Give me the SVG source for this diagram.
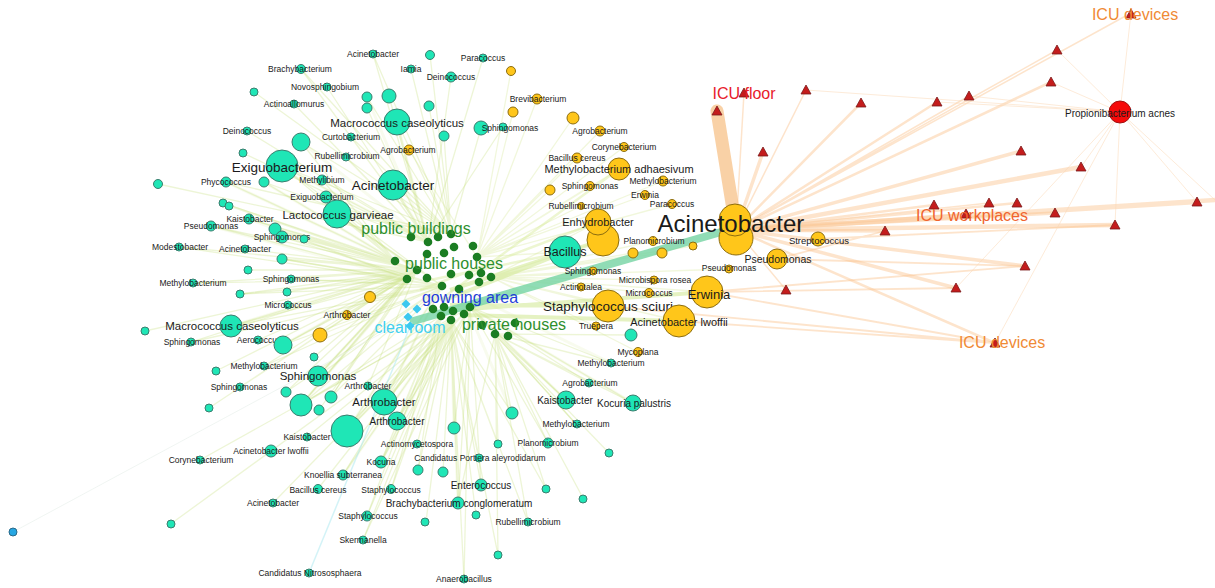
<svg xmlns="http://www.w3.org/2000/svg" width="1215" height="588" viewBox="0 0 1215 588">
<defs>
<path id="tri" d="M0-5L5 4H-5Z"/>
<path id="dia" d="M0-4.5L4.5 0L0 4.5L-4.5 0Z"/>
</defs>
<style>
.t{fill:#1fe6b6;stroke:#3b7d6e;stroke-width:1}
.y{fill:#ffc61a;stroke:#8c6d10;stroke-width:1}
.h{fill:#1b7d22}
.dm{fill:#3cc8ef}
.tr{fill:#c41c1c;stroke:#7a1a1a;stroke-width:.8}
text{font-family:"Liberation Sans",Arial,sans-serif;text-anchor:middle;dominant-baseline:central;fill:#1a1a1a}
.s{font-size:8.5px}
.m{font-size:10px}
.l{font-size:11.5px}
.xl{font-size:13.5px}
.gl{font-size:16px}
.eg{stroke:#c2df78;stroke-opacity:.3;stroke-width:1.3;fill:none}
.eh{stroke:#cde58a;stroke-opacity:.14;stroke-width:3;fill:none}
.ey{stroke:#d2e48a;stroke-opacity:.3;stroke-width:1.3;fill:none}
.eo{stroke:#fbc48e;stroke-opacity:.45;fill:none;stroke-linecap:round}
.ep{stroke:#fbd8b4;stroke-opacity:.5;stroke-width:1;fill:none}
</style>
<rect width="1215" height="588" fill="#ffffff"/>
<g id="edges">
<path class="eh" d="M428 242L397 122M428 242L282 166M428 242L393 185M428 242L301 142M428 242L367 97M417 270L337 214M417 270L275 229M417 270L231 326M417 270L283 345M417 270L318 376M417 270L301 405M442 286L347 431M442 286L384 402M451 320L397 421M451 320L381 462M451 320L343 475M451 320L454 428M451 320L458 503M470 307L566 400M470 307L633 403M407 279L249 219M407 279L211 226M395 261L226 182M395 261L264 182M459 289L512 413M459 289L611 363"/>
<path class="eg" d="M428 242L373 54M428 242L483 58M428 242L451 77M428 242L327 87M428 242L294 104M428 242L389 96M428 242L367 108M428 242L247 131M428 242L243 153M428 242L346 157M428 242L503 127M428 242L282 166M428 242L264 182M428 242L322 180M428 242L326 197M428 242L301 69M428 242L397 122M428 242L393 185M428 242L158 184"/>
<path class="eg" d="M451 234L430 55M451 234L411 69M451 234L301 69M451 234L254 92M451 234L367 97M451 234L429 106M451 234L397 122M451 234L301 142M451 234L351 137M451 234L481 128M451 234L444 136M451 234L226 182M451 234L393 185M451 234L282 166M451 234L337 214M451 234L373 54"/>
<path class="eg" d="M395 261L282 166M395 261L226 182M395 261L264 182M395 261L301 142M395 261L249 219M395 261L223 203M395 261L337 214M395 261L322 180M395 261L326 197"/>
<path class="eg" d="M417 270L337 214M417 270L223 203M417 270L229 206M417 270L249 219M417 270L211 226M417 270L275 229M417 270L282 237M417 270L304 239M417 270L179 247M417 270L245 249M417 270L282 259M417 270L248 270M417 270L291 279M417 270L193 283M417 270L287 292M417 270L240 294M417 270L288 305M417 270L231 326M417 270L145 331M417 270L191 342M417 270L258 340M417 270L283 345M417 270L314 357M417 270L264 366M417 270L216 371M417 270L318 376M417 270L240 387M417 270L286 392M417 270L368 386M417 270L331 397M417 270L301 405M417 270L319 410M417 270L209 408"/>
<path class="eg" d="M407 279L275 229M407 279L282 259M407 279L231 326M407 279L283 345M407 279L318 376M407 279L301 405M407 279L331 397M407 279L240 294M407 279L193 283"/>
<path class="eg" d="M442 286L211 226M442 286L282 237M442 286L179 247M442 286L282 259M442 286L291 279M442 286L240 294M442 286L231 326M442 286L191 342M442 286L283 345M442 286L264 366M442 286L318 376M442 286L286 392M442 286L331 397M442 286L301 405M442 286L384 402M442 286L347 431M442 286L337 214M442 286L282 166"/>
<path class="eg" d="M451 320L384 402M451 320L347 431M451 320L397 421M451 320L512 413M451 320L307 437M451 320L454 428M451 320L417 444M451 320L498 444M451 320L271 451M451 320L479 458M451 320L200 460M451 320L381 462M451 320L343 475M451 320L418 470M451 320L443 472M451 320L317 490M451 320L391 490M451 320L481 485M451 320L273 503M451 320L172 523M451 320L458 503M451 320L367 516M451 320L426 522M451 320L476 515M451 320L528 522M451 320L546 489M451 320L363 540M451 320L498 555M451 320L464 579"/>
<path class="eg" d="M441 316L384 402M441 316L347 431M441 316L397 421M441 316L381 462M441 316L343 475M441 316L301 405M441 316L418 470M441 316L391 490M441 316L367 516"/>
<path class="eg" d="M470 307L397 421M470 307L454 428M470 307L381 462M470 307L481 485M470 307L458 503M470 307L363 540M470 307L464 579M470 307L566 400M470 307L633 403M470 307L611 363M470 307L548 443M470 307L576 424M470 307L589 383M470 307L384 402M470 307L347 431M470 307L301 405"/>
<path class="eg" d="M495 334L611 363M495 334L589 383M495 334L566 400M495 334L633 403M495 334L576 424M495 334L548 443M495 334L609 453M495 334L583 498M495 334L546 489M495 334L512 413M495 334L498 444M495 334L631 335M495 334L528 522M495 334L498 555M495 334L458 503"/>
<path class="ey" d="M477 257L511 71M477 257L537 99M477 257L513 112M477 257L573 118M477 257L600 131M477 257L624 147M477 257L577 158M477 257L619 169M477 257L663 181M477 257L590 186M477 257L550 190M477 257L645 195M477 257L672 204M477 257L581 206M477 257L409 150M477 257L565 252"/>
<path class="ey" d="M491 277L598 222M491 277L603 240M491 277L653 241M491 277L633 253M491 277L662 253M491 277L693 246M491 277L593 271M491 277L655 280M491 277L580 287M491 277L649 293M491 277L608 306M491 277L595 326M491 277L679 321M491 277L707 292M491 277L638 352M491 277L729 269"/>
<path class="ey" d="M417 270L370 297M417 270L347 315M417 270L320 335M442 286L370 297M442 286L320 335"/>
<path d="M445 300L565 252M450 305L608 306M455 310L707 292M460 315L679 321M450 290L603 240" stroke="#cfe78f" stroke-opacity=".55" stroke-width="4" fill="none"/>
<path d="M420 290L598 222M430 280L565 252M440 300L619 169" stroke="#d6ea9a" stroke-opacity=".45" stroke-width="2.5" fill="none"/>
<path d="M410 322L728 230" stroke="#74d3a2" stroke-opacity=".8" stroke-width="8" fill="none"/>
<path d="M412 322L309 573" stroke="#a8e8f0" stroke-opacity=".5" stroke-width="1.5" fill="none"/>
<path d="M410 318L13 532" stroke="#e6eeea" stroke-opacity=".6" stroke-width="1" fill="none"/>
<path class="eo" d="M717 111L736 228" stroke-width="13" style="stroke:#f8c690;stroke-opacity:.8"/>
<path class="eo" stroke-width="1.5" d="M736 230L744 93M736 230L806 90M736 230L969 96M736 230L989 203M736 230L786 290M736 230L1131 13M736 230L1057 50"/>
<path class="eo" stroke-width="2.5" d="M736 230L861 103M736 230L937 102M736 230L1051 82M736 230L934 205M736 230L966 214M736 230L1017 203M736 230L995 343"/>
<path class="eo" stroke-width="3.5" d="M736 230L763 152M736 230L1021 151M736 230L1055 213M736 230L885 231M736 230L1025 266M736 230L956 288"/>
<path class="eo" stroke-width="4.5" d="M736 230L1081 167M736 230L1197 202M736 230L1115 225M736 230L1215 200"/>
<path class="eo" stroke-width="1.8" d="M679 321L995 343M707 292L956 288M707 292L1025 266M707 292L995 343M777 259L1025 266M777 259L885 231M817 239L1115 225M608 306L995 343"/>
<path class="ep" d="M1120 112L1131 13M1120 112L1057 50M1120 112L1051 82M1120 112L806 90M1120 112L937 102M1120 112L969 96M1120 112L1197 202M1120 112L1081 167M1120 112L995 343M1120 112L1115 225M1120 112L1215 200M1120 112L956 288"/>
</g>
<g id="hub">
<circle class="h" cx="411" cy="237" r="4.3"/><circle class="h" cx="428" cy="242" r="4.3"/><circle class="h" cx="438" cy="237" r="4.3"/><circle class="h" cx="451" cy="234" r="4.3"/><circle class="h" cx="454" cy="247" r="4.3"/><circle class="h" cx="473" cy="246" r="4.3"/><circle class="h" cx="427" cy="254" r="4.3"/><circle class="h" cx="444" cy="253" r="4.3"/><circle class="h" cx="477" cy="257" r="4.3"/><circle class="h" cx="395" cy="261" r="4.3"/><circle class="h" cx="417" cy="270" r="4.3"/><circle class="h" cx="407" cy="279" r="4.3"/><circle class="h" cx="427" cy="278" r="4.3"/><circle class="h" cx="451" cy="274" r="4.3"/><circle class="h" cx="469" cy="275" r="4.3"/><circle class="h" cx="481" cy="273" r="4.3"/><circle class="h" cx="491" cy="277" r="4.3"/><circle class="h" cx="479" cy="282" r="4.3"/><circle class="h" cx="442" cy="286" r="4.3"/><circle class="h" cx="459" cy="289" r="4.3"/><circle class="h" cx="433" cy="309" r="4.3"/><circle class="h" cx="444" cy="307" r="4.3"/><circle class="h" cx="453" cy="311" r="4.3"/><circle class="h" cx="470" cy="307" r="4.3"/><circle class="h" cx="441" cy="316" r="4.3"/><circle class="h" cx="464" cy="314" r="4.3"/><circle class="h" cx="451" cy="320" r="4.3"/><circle class="h" cx="495" cy="334" r="4.3"/><circle class="h" cx="508" cy="336" r="4.3"/><circle class="h" cx="515" cy="323" r="4.3"/><circle class="h" cx="482" cy="325" r="4.3"/>
</g>
<g id="cleanroom-nodes">
<use href="#dia" class="dm" x="406" y="304"/><use href="#dia" class="dm" x="417" y="309"/><use href="#dia" class="dm" x="408" y="317"/><use href="#dia" class="dm" x="410" y="326"/>
</g>
<g id="n1"><circle class="t" cx="373" cy="54" r="4"/><text class="s" x="373" y="54">Acinetobacter</text></g>
<g id="n2"><circle class="t" cx="430" cy="55" r="4.5"/></g>
<g id="n3"><circle class="t" cx="483" cy="58" r="4"/><text class="s" x="483" y="58">Paracoccus</text></g>
<g id="n4"><circle class="t" cx="411" cy="69" r="4"/><text class="s" x="411" y="69">Iamia</text></g>
<g id="n5"><circle class="t" cx="451" cy="77" r="5"/><text class="s" x="451" y="77">Deinococcus</text></g>
<g id="n6"><circle class="t" cx="301" cy="69" r="4.5"/><text class="s" x="300" y="69">Brachybacterium</text></g>
<g id="n7"><circle class="t" cx="327" cy="87" r="4"/><text class="s" x="325" y="87">Novosphingobium</text></g>
<g id="n8"><circle class="t" cx="254" cy="92" r="4"/></g>
<g id="n9"><circle class="t" cx="294" cy="104" r="4"/><text class="s" x="294" y="104">Actinoallomurus</text></g>
<g id="n10"><circle class="t" cx="367" cy="97" r="5"/></g>
<g id="n11"><circle class="t" cx="389" cy="96" r="7"/></g>
<g id="n12"><circle class="t" cx="429" cy="106" r="5"/></g>
<g id="n13"><circle class="t" cx="367" cy="108" r="5"/></g>
<g id="n14"><circle class="t" cx="397" cy="122" r="13"/><text class="l" x="397" y="123">Macrococcus caseolyticus</text></g>
<g id="n15"><circle class="t" cx="247" cy="131" r="4"/><text class="s" x="247" y="131">Deinococcus</text></g>
<g id="n16"><circle class="t" cx="301" cy="142" r="9"/></g>
<g id="n17"><circle class="t" cx="243" cy="153" r="4"/></g>
<g id="n18"><circle class="t" cx="351" cy="137" r="4"/><text class="s" x="351" y="137">Curtobacterium</text></g>
<g id="n19"><circle class="t" cx="346" cy="157" r="4"/><text class="s" x="347" y="156">Rubellimicrobium</text></g>
<g id="n20"><circle class="t" cx="481" cy="128" r="7"/></g>
<g id="n21"><circle class="t" cx="503" cy="127" r="4"/><text class="s" x="510" y="128">Sphingomonas</text></g>
<g id="n22"><circle class="t" cx="444" cy="136" r="5"/></g>
<g id="n23"><circle class="t" cx="282" cy="166" r="16"/><text class="xl" x="282" y="167">Exiguobacterium</text></g>
<g id="n24"><circle class="t" cx="226" cy="182" r="5"/><text class="s" x="226" y="182">Phycococcus</text></g>
<g id="n25"><circle class="t" cx="264" cy="182" r="5"/></g>
<g id="n26"><circle class="t" cx="158" cy="184" r="4.5"/></g>
<g id="n27"><circle class="t" cx="322" cy="180" r="5"/><text class="s" x="322" y="180">Methylibium</text></g>
<g id="n28"><circle class="t" cx="393" cy="185" r="15"/><text class="xl" x="393" y="185">Acinetobacter</text></g>
<g id="n29"><circle class="t" cx="326" cy="197" r="6"/><text class="s" x="322" y="197">Exiguobacterium</text></g>
<g id="n30"><circle class="t" cx="337" cy="214" r="14"/><text class="l" x="338" y="215">Lactococcus garvieae</text></g>
<g id="n31"><circle class="t" cx="223" cy="203" r="4"/></g>
<g id="n32"><circle class="t" cx="229" cy="206" r="4"/></g>
<g id="n33"><circle class="t" cx="249" cy="219" r="5"/><text class="s" x="250" y="219">Kaistobacter</text></g>
<g id="n34"><circle class="t" cx="211" cy="226" r="5"/><text class="s" x="211" y="226">Pseudomonas</text></g>
<g id="n35"><circle class="t" cx="275" cy="229" r="6"/></g>
<g id="n36"><circle class="t" cx="282" cy="237" r="6"/><text class="s" x="282" y="237">Sphingomonas</text></g>
<g id="n37"><circle class="t" cx="304" cy="239" r="4"/></g>
<g id="n38"><circle class="t" cx="179" cy="247" r="4"/><text class="s" x="180" y="247">Modestobacter</text></g>
<g id="n39"><circle class="t" cx="245" cy="249" r="4"/><text class="s" x="245" y="249">Acinetobacter</text></g>
<g id="n40"><circle class="t" cx="282" cy="259" r="5"/></g>
<g id="n41"><circle class="t" cx="248" cy="270" r="4"/></g>
<g id="n42"><circle class="t" cx="291" cy="279" r="4"/><text class="s" x="291" y="279">Sphingomonas</text></g>
<g id="n43"><circle class="t" cx="193" cy="283" r="4"/><text class="s" x="193" y="283">Methylobacterium</text></g>
<g id="n44"><circle class="t" cx="287" cy="292" r="4"/></g>
<g id="n45"><circle class="t" cx="240" cy="294" r="4"/></g>
<g id="n46"><circle class="t" cx="288" cy="305" r="4"/><text class="s" x="288" y="305">Micrococcus</text></g>
<g id="n47"><circle class="t" cx="231" cy="326" r="11"/><text class="l" x="232" y="326">Macrococcus caseolyticus</text></g>
<g id="n48"><circle class="t" cx="145" cy="331" r="4"/></g>
<g id="n49"><circle class="t" cx="191" cy="342" r="4"/><text class="s" x="192" y="342">Sphingomonas</text></g>
<g id="n50"><circle class="t" cx="258" cy="340" r="4"/><text class="s" x="259" y="340">Aerococcus</text></g>
<g id="n51"><circle class="t" cx="283" cy="345" r="9"/></g>
<g id="n52"><circle class="t" cx="314" cy="357" r="4"/></g>
<g id="n53"><circle class="t" cx="264" cy="366" r="4"/><text class="s" x="264" y="366">Methylobacterium</text></g>
<g id="n54"><circle class="t" cx="216" cy="371" r="4"/></g>
<g id="n55"><circle class="t" cx="318" cy="376" r="10"/><text class="l" x="318" y="376">Sphingomonas</text></g>
<g id="n56"><circle class="t" cx="240" cy="387" r="4"/><text class="s" x="239" y="387">Sphingomonas</text></g>
<g id="n57"><circle class="t" cx="286" cy="392" r="5"/></g>
<g id="n58"><circle class="t" cx="368" cy="386" r="4"/><text class="s" x="368" y="386">Arthrobacter</text></g>
<g id="n59"><circle class="t" cx="331" cy="397" r="6"/></g>
<g id="n60"><circle class="t" cx="301" cy="405" r="11"/></g>
<g id="n61"><circle class="t" cx="319" cy="410" r="5"/></g>
<g id="n62"><circle class="t" cx="209" cy="408" r="4"/></g>
<g id="n63"><circle class="t" cx="384" cy="402" r="13"/><text class="l" x="384" y="402">Arthrobacter</text></g>
<g id="n64"><circle class="t" cx="347" cy="431" r="16"/></g>
<g id="n65"><circle class="t" cx="397" cy="421" r="9"/><text class="m" x="397" y="421">Arthrobacter</text></g>
<g id="n66"><circle class="t" cx="512" cy="413" r="6"/></g>
<g id="n67"><circle class="t" cx="307" cy="437" r="4"/><text class="s" x="307" y="437">Kaistobacter</text></g>
<g id="n68"><circle class="t" cx="454" cy="428" r="6"/></g>
<g id="n69"><circle class="t" cx="417" cy="444" r="4"/><text class="s" x="417" y="444">Actinomycetospora</text></g>
<g id="n70"><circle class="t" cx="498" cy="444" r="4"/></g>
<g id="n71"><circle class="t" cx="271" cy="451" r="6"/><text class="s" x="271" y="451">Acinetobacter lwoffii</text></g>
<g id="n72"><circle class="t" cx="479" cy="458" r="4"/><text class="s" x="480" y="458">Candidatus Portiera aleyrodidarum</text></g>
<g id="n73"><circle class="t" cx="200" cy="460" r="4"/><text class="s" x="201" y="460">Corynebacterium</text></g>
<g id="n74"><circle class="t" cx="381" cy="462" r="6"/><text class="s" x="381" y="462">Kocuria</text></g>
<g id="n75"><circle class="t" cx="343" cy="475" r="5"/><text class="s" x="343" y="475">Knoellia subterranea</text></g>
<g id="n76"><circle class="t" cx="418" cy="470" r="5"/></g>
<g id="n77"><circle class="t" cx="443" cy="472" r="5"/></g>
<g id="n78"><circle class="t" cx="318" cy="489" r="4.5"/><text class="s" x="318" y="490">Bacillus cereus</text></g>
<g id="n79"><circle class="t" cx="391" cy="489" r="4.5"/><text class="s" x="391" y="490">Staphylococcus</text></g>
<g id="n80"><circle class="t" cx="481" cy="485" r="6"/><text class="m" x="481" y="485">Enterococcus</text></g>
<g id="n81"><circle class="t" cx="273" cy="503" r="4"/><text class="s" x="273" y="503">Acinetobacter</text></g>
<g id="n82"><circle class="t" cx="171" cy="524" r="4"/></g>
<g id="n83"><circle class="t" cx="458" cy="503" r="6"/><text class="m" x="459" y="503">Brachybacterium conglomeratum</text></g>
<g id="n84"><circle class="t" cx="367" cy="516" r="5"/><text class="s" x="368" y="516">Staphylococcus</text></g>
<g id="n85"><circle class="t" cx="425" cy="522" r="4"/></g>
<g id="n86"><circle class="t" cx="476" cy="515" r="4"/></g>
<g id="n87"><circle class="t" cx="528" cy="522" r="4"/><text class="s" x="528" y="522">Rubellimicrobium</text></g>
<g id="n88"><circle class="t" cx="546" cy="489" r="4"/></g>
<g id="n89"><circle class="t" cx="363" cy="540" r="4"/><text class="s" x="363" y="540">Skermanella</text></g>
<g id="n90"><circle class="t" cx="498" cy="555" r="4"/></g>
<g id="n91"><circle class="t" cx="309" cy="573" r="4"/><text class="s" x="310" y="573">Candidatus Nitrososphaera</text></g>
<g id="n92"><circle class="t" cx="464" cy="579" r="4"/><text class="s" x="464" y="579">Anaerobacillus</text></g>
<g id="n93"><circle cx="13" cy="532" r="4" fill="#26a6e2" stroke="#2a6a8a" stroke-width="1"/></g>
<g id="n94"><circle class="t" cx="611" cy="363" r="4"/><text class="s" x="611" y="363">Methylobacterium</text></g>
<g id="n95"><circle class="t" cx="589" cy="383" r="4"/><text class="s" x="590" y="383">Agrobacterium</text></g>
<g id="n96"><circle class="t" cx="566" cy="400" r="9"/><text class="m" x="565" y="400">Kaistobacter</text></g>
<g id="n97"><circle class="t" cx="633" cy="403" r="8"/><text class="m" x="634" y="403">Kocuria palustris</text></g>
<g id="n98"><circle class="t" cx="577" cy="424" r="4"/><text class="s" x="576" y="424">Methylobacterium</text></g>
<g id="n99"><circle class="t" cx="548" cy="443" r="5"/><text class="s" x="548" y="443">Planomicrobium</text></g>
<g id="n100"><circle class="t" cx="609" cy="453" r="4"/></g>
<g id="n101"><circle class="t" cx="583" cy="499" r="4"/></g>
<g id="n102"><circle class="t" cx="565" cy="252" r="16"/><text class="l" x="565" y="252" style="font-size:12.5px">Bacillus</text></g>
<g id="n103"><circle class="t" cx="631" cy="335" r="6"/></g>
<g id="y1"><circle class="y" cx="511" cy="71" r="4.5"/></g>
<g id="y2"><circle class="y" cx="537" cy="99" r="5"/><text class="s" x="538" y="99">Brevibacterium</text></g>
<g id="y3"><circle class="y" cx="513" cy="112" r="5"/></g>
<g id="y4"><circle class="y" cx="573" cy="118" r="6"/></g>
<g id="y5"><circle class="y" cx="600" cy="131" r="5"/><text class="s" x="600" y="131">Agrobacterium</text></g>
<g id="y6"><circle class="y" cx="624" cy="147" r="4.5"/><text class="s" x="624" y="147">Corynebacterium</text></g>
<g id="y7"><circle class="y" cx="577" cy="158" r="5"/><text class="s" x="577" y="158">Bacillus cereus</text></g>
<g id="y8"><circle class="y" cx="619" cy="169" r="11"/><text class="l" x="619" y="169" style="font-size:11px">Methylobacterium adhaesivum</text></g>
<g id="y9"><circle class="y" cx="663" cy="181" r="5"/><text class="s" x="663" y="181">Methylobacterium</text></g>
<g id="y10"><circle class="y" cx="590" cy="186" r="4.5"/><text class="s" x="590" y="186">Sphingomonas</text></g>
<g id="y11"><circle class="y" cx="550" cy="190" r="5"/></g>
<g id="y12"><circle class="y" cx="645" cy="195" r="4.5"/><text class="s" x="645" y="195">Erwinia</text></g>
<g id="y13"><circle class="y" cx="672" cy="204" r="4.5"/><text class="s" x="672" y="204">Paracoccus</text></g>
<g id="y14"><circle class="y" cx="581" cy="206" r="3.5"/><text class="s" x="581" y="206">Rubellimicrobium</text></g>
<g id="y16"><circle class="y" cx="603" cy="240" r="16"/></g>
<g id="y15"><circle class="y" cx="598" cy="222" r="13"/><text class="l" x="598" y="222" style="font-size:11px">Enhydrobacter</text></g>
<g id="y17"><circle class="y" cx="653" cy="241" r="4.5"/><text class="s" x="654" y="241">Planomicrobium</text></g>
<g id="y18"><circle class="y" cx="633" cy="253" r="5"/></g>
<g id="y19"><circle class="y" cx="662" cy="253" r="5"/></g>
<g id="y20"><circle class="y" cx="693" cy="246" r="4"/></g>
<g id="y21"><circle class="y" cx="593" cy="271" r="4"/><text class="s" x="593" y="271">Sphingomonas</text></g>
<g id="y22"><circle class="y" cx="654" cy="280" r="4"/><text class="s" x="655" y="280">Microbispora rosea</text></g>
<g id="y23"><circle class="y" cx="581" cy="287" r="4"/><text class="s" x="581" y="287">Actinotalea</text></g>
<g id="y24"><circle class="y" cx="649" cy="293" r="4.5"/><text class="s" x="649" y="293">Micrococcus</text></g>
<g id="y25"><circle class="y" cx="608" cy="306" r="16"/><text class="xl" x="608" y="306">Staphylococcus sciuri</text></g>
<g id="y26"><circle class="y" cx="596" cy="326" r="4"/><text class="s" x="596" y="326">Truepera</text></g>
<g id="y27"><circle class="y" cx="679" cy="321" r="16"/><text class="l" x="679" y="322" style="font-size:11px">Acinetobacter lwoffii</text></g>
<g id="y28"><circle class="y" cx="707" cy="292" r="16"/><text class="l" x="709" y="294" style="font-size:13px">Erwinia</text></g>
<g id="y29"><circle class="y" cx="736" cy="238" r="17"/><circle class="y" cx="735" cy="220" r="16"/><text x="731" y="223" style="font-size:24px">Acinetobacter</text></g>
<g id="y31"><circle class="y" cx="818" cy="239" r="7"/><text class="m" x="819" y="240" style="font-size:9.5px">Streptococcus</text></g>
<g id="y32"><circle class="y" cx="777" cy="259" r="10"/><text class="m" x="778" y="259" style="font-size:10.5px">Pseudomonas</text></g>
<g id="y33"><circle class="y" cx="729" cy="269" r="4"/><text class="s" x="729" y="268">Pseudomonas</text></g>
<g id="y34"><circle class="y" cx="638" cy="352" r="4.5"/><text class="s" x="638" y="352">Mycoplana</text></g>
<g id="y35"><circle class="y" cx="370" cy="297" r="5.5"/></g>
<g id="y36"><circle class="y" cx="347" cy="315" r="4.5"/><text class="s" x="347" y="315">Arthrobacter</text></g>
<g id="y37"><circle class="y" cx="320" cy="335" r="7"/></g>
<g id="y38"><circle class="y" cx="409" cy="150" r="5"/><text class="s" x="408" y="150">Agrobacterium</text></g>
<g id="prop"><circle cx="1120" cy="112" r="11" fill="#f50a0a" stroke="#a01010" stroke-width="1"/><text class="m" x="1120" y="113">Propionibacterium acnes</text></g>
<g id="icu">
<use href="#tri" class="tr" x="717" y="111"/><use href="#tri" class="tr" x="806" y="90"/><use href="#tri" class="tr" x="861" y="103"/><use href="#tri" class="tr" x="937" y="102"/><use href="#tri" class="tr" x="969" y="96"/><use href="#tri" class="tr" x="1051" y="82"/><use href="#tri" class="tr" x="1057" y="50"/><use href="#tri" class="tr" x="763" y="152"/><use href="#tri" class="tr" x="1021" y="151"/><use href="#tri" class="tr" x="1081" y="167"/><use href="#tri" class="tr" x="934" y="205"/><use href="#tri" class="tr" x="989" y="203"/><use href="#tri" class="tr" x="1017" y="203"/><use href="#tri" class="tr" x="1055" y="213"/><use href="#tri" class="tr" x="1197" y="202"/><use href="#tri" class="tr" x="885" y="231"/><use href="#tri" class="tr" x="1115" y="225"/><use href="#tri" class="tr" x="1025" y="266"/><use href="#tri" class="tr" x="956" y="288"/><use href="#tri" class="tr" x="786" y="290"/>
</g>
<g id="icu-floor"><use href="#tri" class="tr" x="744" y="93"/><text class="gl" x="744" y="93" style="fill:#e8202a">ICU floor</text></g>
<g id="icu-workplaces"><use href="#tri" class="tr" x="966" y="214"/><text class="gl" x="972" y="215" style="fill:#f0642e">ICU workplaces</text></g>
<g id="icu-devices"><use href="#tri" class="tr" x="995" y="343"/><text class="gl" x="1002" y="342" style="fill:#f08a35">ICU devices</text></g>
<g id="icu-devices-2"><use href="#tri" class="tr" x="1131" y="14"/><text class="gl" x="1135" y="14" style="fill:#f08a35">ICU devices</text></g>
<g id="public-buildings"><text class="gl" x="416" y="228" style="fill:#2e8f2e">public buildings</text></g>
<g id="public-houses"><text class="gl" x="454" y="263" style="fill:#2e8f2e">public houses</text></g>
<g id="gowning-area"><text class="gl" x="470" y="297" style="fill:#1f3ed8">gowning area</text></g>
<g id="clearroom"><text class="gl" x="410" y="327" style="fill:#3ecff0">clearroom</text></g>
<g id="private-houses"><text class="gl" x="514" y="324" style="fill:#2e8f2e">private houses</text></g>
</svg>
